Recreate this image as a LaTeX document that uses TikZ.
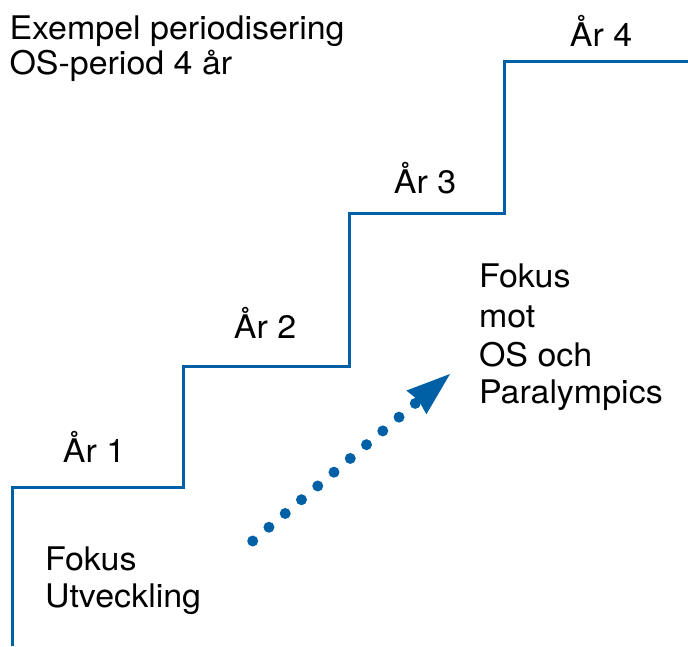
\documentclass[tikz,border=0pt]{standalone}
\usepackage{fontspec}
\setmainfont[FakeStretch=1.045]{TeX Gyre Heros}
\usetikzlibrary{calc}
\definecolor{stairblue}{RGB}{0,96,166}
\begin{document}
\begin{tikzpicture}[x=1pt,y=-1pt,
  lbl/.style={inner sep=0pt,outer sep=0pt,font=\fontsize{32.5}{39}\selectfont,text=black},
  stair/.style={draw=stairblue,line width=3pt,line join=miter},
  dots/.style={draw=stairblue,line width=11pt,line cap=round,dash pattern=on 0pt off 21.3pt}]
\useasboundingbox (0,0) rectangle (688,646);
% staircase
\coordinate (s0) at (12,646);
\coordinate (s1) at (12,487);
\coordinate (s2) at (183,487);
\coordinate (s3) at (183,366);
\coordinate (s4) at (349,366);
\coordinate (s5) at (349,213);
\coordinate (s6) at (504,213);
\coordinate (s7) at (504,61);
\coordinate (s8) at (690,61);
\draw[stair] (s0) -- (s1) -- (s2) -- (s3) -- (s4) -- (s5) -- (s6) -- (s7) -- (s8);
% title
\node[lbl,anchor=base west] (t1) at (9.5,39.5) {Exempel periodisering};
\node[lbl,anchor=base west] (t2) at (9.5,74.5) {OS-period 4 år};
% year labels
\node[lbl,anchor=base] (y1) at (94,462) {År 1};
\node[lbl,anchor=base] (y2) at (265,338.5) {År 2};
\node[lbl,anchor=base] (y3) at (425,193.5) {År 3};
\node[lbl,anchor=base] (y4) at (601,46) {År 4};
% focus texts
\node[lbl,anchor=base west] (f1) at (45,570) {Fokus};
\node[lbl,anchor=base west] (f2) at (45,607) {Utveckling};
\node[lbl,anchor=base west] (g1) at (479,287) {Fokus};
\node[lbl,anchor=base west] (g2) at (479,327) {mot};
\node[lbl,anchor=base west] (g3) at (479,366.5) {OS och};
\node[lbl,anchor=base west] (g4) at (479,403.5) {Paralympics};
% dotted arrow
\coordinate (a0) at (252.7,541);
\coordinate (a1) at (450,374);
\draw[dots] (a0) -- ($(a0)!214pt!(a1)$);
\fill[stairblue,shift={(a1)},rotate=40.2] (0,0) -- (-44,15.5) -- (-41,0) -- (-44,-15.5) -- cycle;
\end{tikzpicture}
\end{document}
